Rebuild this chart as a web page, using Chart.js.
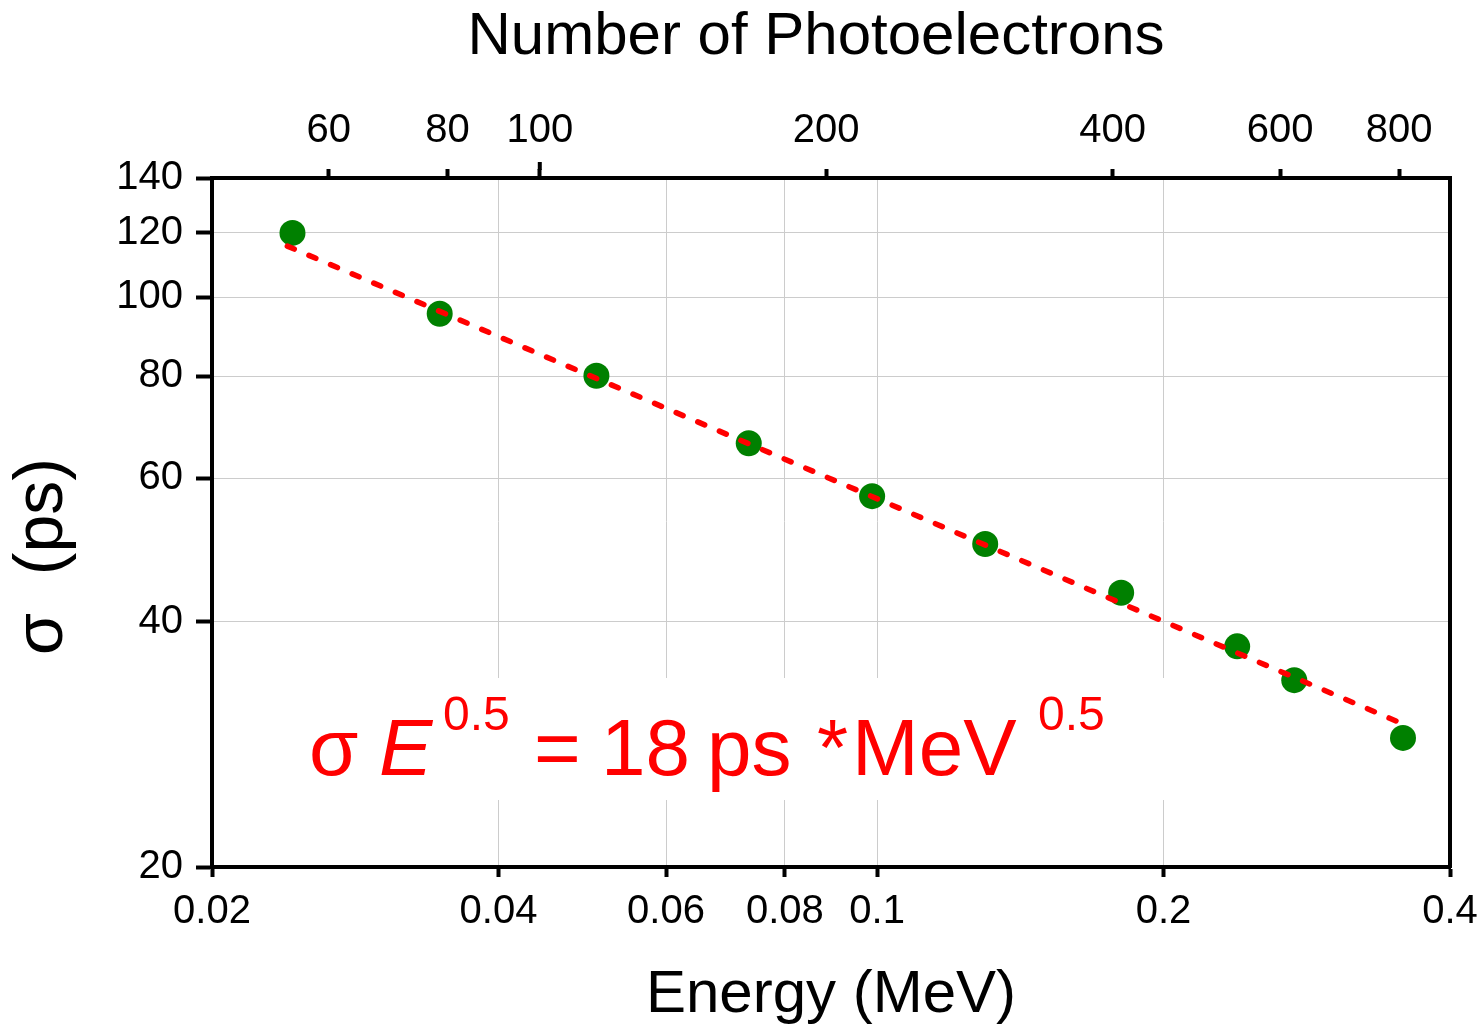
<!DOCTYPE html>
<html>
<head>
<meta charset="utf-8">
<script src="https://cdn.jsdelivr.net/npm/chart.js@4.4.1/dist/chart.umd.min.js"></script>
<style>
  html, body { margin: 0; padding: 0; background: #fff; }
  #wrap { width: 1483px; height: 1027px; position: relative; }
</style>
</head>
<body>
<div id="wrap"><canvas id="c"></canvas></div>
<script>
// measured points: energy (MeV) vs time resolution sigma (ps)
const energy = [0.0243, 0.0347, 0.0507, 0.0733, 0.0988, 0.1299, 0.1805, 0.239, 0.2744, 0.357];
const sigma  = [119.9, 95.4, 80.1, 66.2, 57.0, 49.8, 43.4, 37.3, 33.9, 28.8];

// fit line sigma*E^0.5 = 18 ps*MeV^0.5 (ends)
const fitE     = [0.024, 0.356];
const fitSigma = [115.5, 30.0];

// tick labels
const energyTicks = [0.02, 0.04, 0.06, 0.08, 0.1, 0.2, 0.4];
const sigmaTicks  = [20, 40, 60, 80, 100, 120, 140];
const peTicks     = [60, 80, 100, 200, 400, 600, 800];
const pePerMeV = 2262;

const FONT = "'Liberation Sans', Arial, sans-serif";

// formula pieces: text, x, baseline, font
const formula = [
  ["σ",    309, 775, "80px"],
  ["E",    379, 775, "italic 80px"],
  ["0.5",  443, 730, "48px"],
  ["=",    534, 775, "80px"],
  ["18",   601, 775, "80px"],
  ["ps",   707, 775, "80px"],
  ["*",    817, 775, "80px"],
  ["MeV",  852, 775, "80px"],
  ["0.5", 1038, 730, "48px"]
];

const annotation = {
  id: "annotation",
  beforeDatasetsDraw(chart) {
    const ctx = chart.ctx;
    ctx.save();
    // white box behind the formula hides the grid
    ctx.fillStyle = "#fff";
    ctx.fillRect(300, 678, 900, 122);
    ctx.fillStyle = "#ff0000";
    ctx.textBaseline = "alphabetic";
    ctx.textAlign = "left";
    formula.forEach(([t, x, y, f]) => {
      ctx.font = f + " " + FONT;
      ctx.fillText(t, x, y);
    });
    ctx.restore();
  },
  afterDraw(chart) {
    // the 100 tick on top axis is a bit longer
    const s = chart.scales.x2;
    const ctx = chart.ctx;
    const px = s.getPixelForValue(100);
    ctx.save();
    ctx.strokeStyle = "#000";
    ctx.lineWidth = 4;
    ctx.beginPath();
    ctx.moveTo(px, s.bottom - 8);
    ctx.lineTo(px, s.bottom - 16);
    ctx.stroke();
    ctx.restore();
  }
};

const tickFont = { family: FONT, size: 40 };
const titleFont = { family: FONT, size: 60 };

const noSidePad = s => { s.paddingLeft = 0; s.paddingRight = 0; };

new Chart(document.getElementById("c"), {
  type: "scatter",
  data: {
    datasets: [
      {
        label: "fit",
        data: fitE.map((e, i) => ({ x: e, y: fitSigma[i] })),
        showLine: true,
        borderColor: "#ff0000",
        borderWidth: 5.5,
        borderDash: [7.5, 16],
        borderCapStyle: "round",
        pointRadius: 0,
        order: 0
      },
      {
        label: "data",
        data: energy.map((e, i) => ({ x: e, y: sigma[i] })),
        backgroundColor: "#008000",
        borderWidth: 0,
        pointRadius: 13,
        order: 1
      }
    ]
  },
  options: {
    responsive: true,
    maintainAspectRatio: false,
    animation: false,
    devicePixelRatio: 1,
    layout: { padding: 0 },
    plugins: { legend: { display: false }, tooltip: { enabled: false } },
    scales: {
      x: {
        type: "logarithmic",
        position: "bottom",
        min: 0.02,
        max: 0.4,
        afterBuildTicks: s => { s.ticks = energyTicks.map(v => ({ value: v })); },
        afterFit: s => { s.height = 160; noSidePad(s); },
        ticks: { autoSkip: false, maxRotation: 0, color: "#000", font: tickFont, padding: 11,
                 callback: v => String(v) },
        grid: { color: "#cccccc", lineWidth: 1, tickColor: "#000", tickWidth: 4, tickLength: 10 },
        border: { color: "#000", width: 4 },
        title: { display: true, text: "Energy (MeV)", color: "#000", font: titleFont,
                 padding: { top: 0, bottom: -4 } }
      },
      x2: {
        type: "logarithmic",
        position: "top",
        min: 0.02 * pePerMeV,
        max: 0.4 * pePerMeV,
        afterBuildTicks: s => { s.ticks = peTicks.map(v => ({ value: v })); },
        afterFit: s => { s.height = 178; noSidePad(s); },
        ticks: { autoSkip: false, maxRotation: 0, color: "#000", font: tickFont, padding: 14,
                 callback: v => String(v) },
        grid: { drawOnChartArea: false, tickColor: "#000", tickWidth: 4, tickLength: 9 },
        border: { color: "#000", width: 4 },
        title: { display: true, text: "Number of Photoelectrons\u2002", color: "#000", font: titleFont,
                 padding: { top: 1, bottom: 0 } }
      },
      y: {
        type: "logarithmic",
        position: "left",
        min: 20,
        max: 140,
        afterBuildTicks: s => { s.ticks = sigmaTicks.map(v => ({ value: v })); },
        afterFit: s => { s.width = 212; },
        ticks: { autoSkip: false, color: "#000", font: tickFont, padding: 13,
                 callback: v => String(v) },
        grid: { color: "#cccccc", lineWidth: 1, tickColor: "#000", tickWidth: 4, tickLength: 16 },
        border: { color: "#000", width: 4 },
        title: { display: true, text: "σ  (ps)\u2003", color: "#000", font: { family: FONT, size: 68 },
                 padding: { top: 2, bottom: 0 } }
      },
      yRight: {
        type: "linear",
        position: "right",
        afterFit: s => { s.width = 33; },
        ticks: { display: false },
        grid: { drawOnChartArea: false, drawTicks: false },
        border: { color: "#000", width: 4 }
      }
    }
  },
  plugins: [annotation]
});
</script>
</body>
</html>
